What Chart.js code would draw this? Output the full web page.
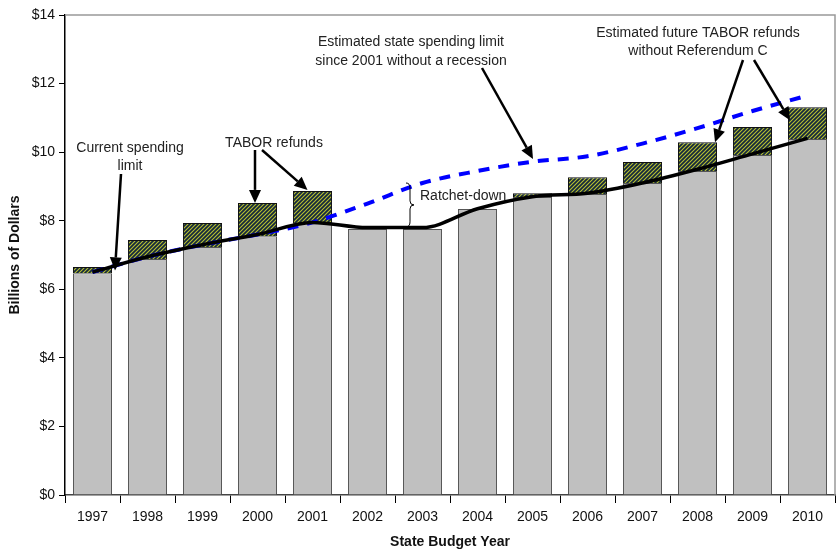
<!DOCTYPE html>
<html>
<head>
<meta charset="utf-8">
<script src="https://cdn.jsdelivr.net/npm/chart.js@4/dist/chart.umd.min.js"></script>
<style>
  html, body { margin: 0; padding: 0; background: #fff; }
  #wrap { width: 836px; height: 555px; }
</style>
</head>
<body>
<div id="wrap"><canvas id="c" width="836" height="555"></canvas></div>
<script>
// data (billions of dollars)
const years = ['1997','1998','1999','2000','2001','2002','2003','2004','2005','2006','2007','2008','2009','2010'];
const spending = [6.47, 6.88, 7.23, 7.55, 7.93, 7.76, 7.76, 8.34, 8.69, 8.78, 9.10, 9.45, 9.92, 10.38];
const refunds = [0.18, 0.56, 0.70, 0.97, 0.94, 0, 0, 0, 0.11, 0.49, 0.61, 0.84, 0.81, 0.93];
const currentLimit = [6.5, 6.95, 7.3, 7.6, 7.95, 7.8, 7.8, 8.35, 8.7, 8.8, 9.1, 9.5, 9.95, 10.4];
const noRecessionLimit = [6.5, 6.95, 7.3, 7.6, 7.95, 8.5, 9.1, 9.45, 9.72, 9.88, 10.25, 10.7, 11.2, 11.65];
const yTicks = [0, 2, 4, 6, 8, 10, 12, 14];

function makeHatch() {
    const p = document.createElement('canvas');
    p.width = 4; p.height = 4;
    const g = p.getContext('2d');
    g.fillStyle = '#14283c';
    g.fillRect(0, 0, 4, 4);
    g.strokeStyle = '#b8c030';
    g.lineWidth = 1.1;
    g.beginPath();
    g.moveTo(-1, 5); g.lineTo(5, -1);
    g.moveTo(-1, 1); g.lineTo(1, -1);
    g.moveTo(3, 5); g.lineTo(5, 3);
    g.stroke();
    return g.createPattern(p, 'repeat');
}

function arrow(ctx, x1, y1, x2, y2) {
    const a = Math.atan2(y2 - y1, x2 - x1);
    const h = 13, w = 6;
    const bx = x2 - h * Math.cos(a), by = y2 - h * Math.sin(a);
    ctx.beginPath();
    ctx.moveTo(x1, y1);
    ctx.lineTo(bx, by);
    ctx.stroke();
    ctx.beginPath();
    ctx.moveTo(x2, y2);
    ctx.lineTo(bx + w * Math.sin(a), by - w * Math.cos(a));
    ctx.lineTo(bx - w * Math.sin(a), by + w * Math.cos(a));
    ctx.closePath();
    ctx.fill();
}

const notes = {
    id: 'notes',
    afterDraw(chart) {
        const ctx = chart.ctx;
        const x = chart.scales.x, y = chart.scales.y;
        const a = chart.chartArea;
        ctx.save();
        // frame top/right
        ctx.strokeStyle = '#999';
        ctx.lineWidth = 1.5;
        ctx.beginPath();
        ctx.moveTo(a.left, a.top);
        ctx.lineTo(a.right, a.top);
        ctx.lineTo(a.right, a.bottom);
        ctx.stroke();

        ctx.fillStyle = '#222';
        ctx.font = '14px "Liberation Sans", Arial, sans-serif';
        ctx.textAlign = 'center';
        ctx.textBaseline = 'middle';
        ctx.fillText('Current spending', 130, 148);
        ctx.fillText('limit', 130, 166);
        ctx.fillText('TABOR refunds', 274, 143);
        ctx.fillText('Estimated state spending limit', 411, 42);
        ctx.fillText('since 2001 without a recession', 411, 61);
        ctx.fillText('Estimated future TABOR refunds', 698, 33);
        ctx.fillText('without Referendum C', 698, 51);
        ctx.textAlign = 'left';
        ctx.fillText('Ratchet-down', 420, 196);

        ctx.strokeStyle = '#000';
        ctx.fillStyle = '#000';
        ctx.lineWidth = 2.5;
        const cx = i => x.getPixelForValue(i);
        arrow(ctx, 121, 174, 115, y.getPixelForValue(currentLimit[0] + 0.05));
        arrow(ctx, 255, 150, 255, y.getPixelForValue(spending[3] + refunds[3]));
        arrow(ctx, 262, 150, cx(4) - 5, y.getPixelForValue(spending[4] + refunds[4]) - 1);
        arrow(ctx, 482, 68, 533, y.getPixelForValue(noRecessionLimit[8] + 0.08));
        arrow(ctx, 743, 60, 715, y.getPixelForValue(spending[11] + refunds[11]));
        arrow(ctx, 754, 60, 790, y.getPixelForValue(spending[13] + refunds[13]) + 13);

        // ratchet-down brace
        const bt = y.getPixelForValue(9.1), bb = y.getPixelForValue(7.82);
        const bm = (bt + bb) / 2, bxp = 410;
        ctx.lineWidth = 1;
        ctx.beginPath();
        ctx.moveTo(bxp - 4, bt);
        ctx.quadraticCurveTo(bxp, bt, bxp, bt + 5);
        ctx.lineTo(bxp, bm - 4);
        ctx.quadraticCurveTo(bxp, bm, bxp + 4, bm);
        ctx.quadraticCurveTo(bxp, bm, bxp, bm + 4);
        ctx.lineTo(bxp, bb - 5);
        ctx.quadraticCurveTo(bxp, bb, bxp - 4, bb);
        ctx.stroke();
        ctx.restore();
    }
};

const font = { family: '"Liberation Sans", Arial, sans-serif', size: 14 };

new Chart(document.getElementById('c'), {
    type: 'bar',
    data: {
        labels: years,
        datasets: [
            {
                type: 'line', data: currentLimit, stack: 'l1', order: 0,
                borderColor: '#000', borderWidth: 3.5, cubicInterpolationMode: 'monotone',
                pointRadius: 0, fill: false
            },
            {
                type: 'line', data: noRecessionLimit, stack: 'l2', order: 1,
                borderColor: '#0000ff', borderWidth: 4, borderDash: [11, 9],
                cubicInterpolationMode: 'monotone', pointRadius: 0, fill: false
            },
            {
                data: spending, stack: 'b', order: 2,
                backgroundColor: '#c0c0c0', borderColor: '#555', borderWidth: 1,
                categoryPercentage: 1, barPercentage: 0.71
            },
            {
                data: refunds, stack: 'b', order: 2,
                backgroundColor: makeHatch(), borderColor: '#111', borderWidth: 1,
                categoryPercentage: 1, barPercentage: 0.71
            }
        ]
    },
    options: {
        responsive: false,
        animation: false,
        layout: { padding: { top: 15, right: 1, left: 0, bottom: 0 } },
        plugins: { legend: { display: false }, tooltip: { enabled: false } },
        scales: {
            x: {
                stacked: true,
                grid: { display: true, drawOnChartArea: false, offset: true, color: '#000', tickLength: 8 },
                border: { color: '#444', width: 1.5 },
                ticks: { color: '#111', font: font, padding: 6, maxRotation: 0 },
                title: { display: true, text: 'State Budget Year', color: '#111',
                         font: { family: font.family, size: 14, weight: 'bold' }, padding: { top: 6 } },
                afterFit: s => { s.height = 60; }
            },
            y: {
                stacked: true,
                min: 0, max: 14,
                afterBuildTicks: s => { s.ticks = yTicks.map(v => ({ value: v })); },
                grid: { display: true, drawOnChartArea: false, color: '#000', tickLength: 6 },
                border: { color: '#000', width: 1.5 },
                ticks: { color: '#111', font: font, padding: 4, callback: v => '$' + v },
                title: { display: true, text: 'Billions of Dollars', color: '#111',
                         font: { family: font.family, size: 14, weight: 'bold' }, padding: { top: 7, bottom: 0 } },
                afterFit: s => { s.width = 65; }
            }
        }
    },
    plugins: [notes]
});
</script>
</body>
</html>
